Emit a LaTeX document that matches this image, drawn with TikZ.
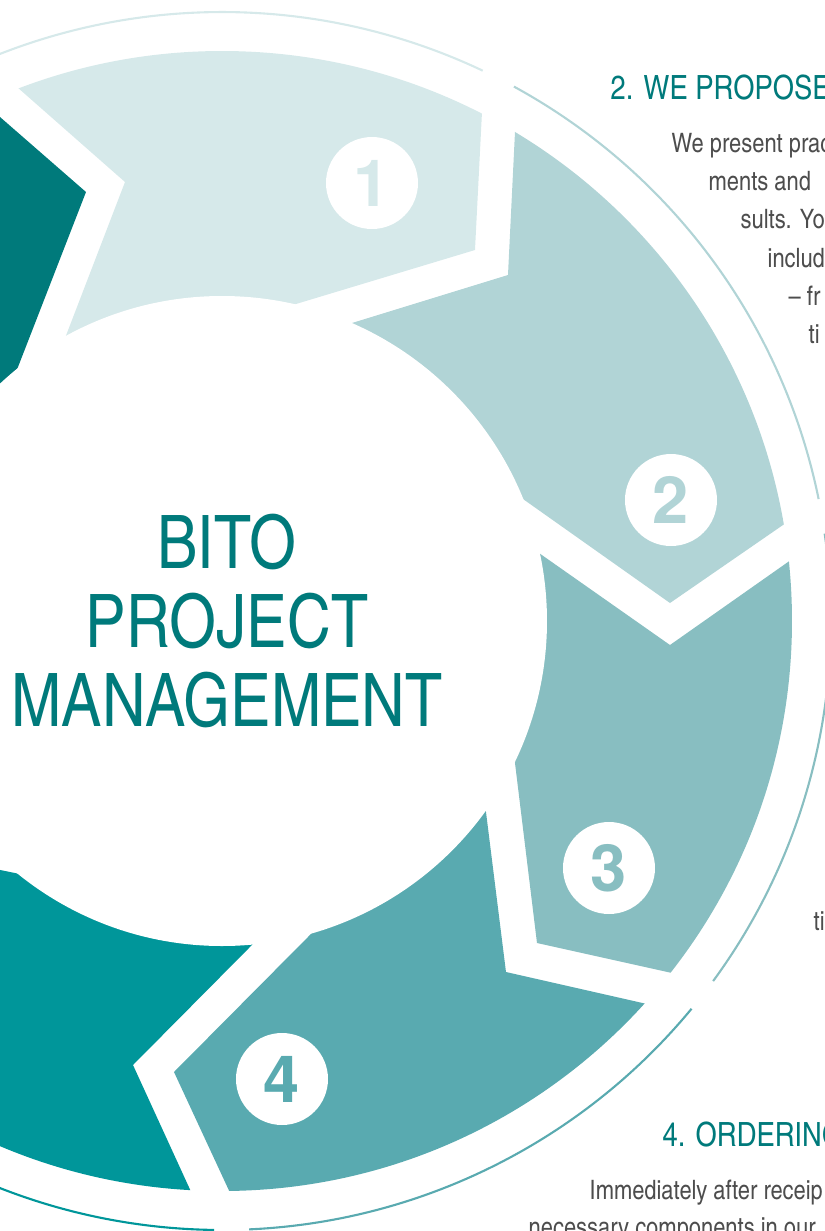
\documentclass[tikz,border=0pt]{standalone}
\usepackage{fontspec}
\setmainfont{TeX Gyre Heros}
\newfontfamily\narrowfont{texgyreheroscn}[Extension=.otf, UprightFont=*-regular, BoldFont=*-bold]
\usetikzlibrary{calc}
\definecolor{stepA}{HTML}{D6E9EA}
\definecolor{stepB}{HTML}{B1D4D6}
\definecolor{stepC}{HTML}{88BEC1}
\definecolor{stepD}{HTML}{59AAB0}
\definecolor{stepE}{HTML}{00969A}
\definecolor{stepG}{HTML}{007A7B}
\definecolor{bodygray}{HTML}{4D4D4D}

\begin{document}
\begin{tikzpicture}[
    numdisc/.style={circle, fill=white, minimum size=9.2mm, inner sep=0pt,
        font=\fontsize{18.5}{18.5}\selectfont\bfseries},
    headline/.style={anchor=base west, inner sep=0pt, text=stepG,
        font=\narrowfont\fontsize{9.5}{11}\selectfont},
    bodyline/.style={anchor=base west, inner sep=0pt, text=bodygray,
        font=\narrowfont\fontsize{7.6}{8.6}\selectfont},
    ringarc/.style={line width=0.6pt},
]
% page is 825 x 1231 px, 1cm = 100px, ring centre at the origin
\useasboundingbox (-2.22,-6.10) rectangle (6.03,6.21);
\clip (-2.22,-6.10) rectangle (6.03,6.21);

% chevron corners: N = notch at start, P = point at end; o/v/i = outer, tip, inner
% segment 7 (dark, top left; its notch lies off the page)
\coordinate (No7) at (163:5.7);
\coordinate (Nv7) at (154:4.47);
\coordinate (Ni7) at (170:3.25);
\coordinate (Po7) at (-2.22,5.04);
\coordinate (Pv7) at (-1.36,4.29);
\coordinate (Pi7) at (-2.04,2.54);
% segment 1
\coordinate (No1) at (-2.05,5.34);
\coordinate (Nv1) at (-0.97,4.39);
\coordinate (Ni1) at (-1.55,2.88);
\coordinate (Po1) at (2.60,5.09);
\coordinate (Pv1) at (2.53,3.71);
\coordinate (Pi1) at (0.74,3.17);
% segment 2
\coordinate (No2) at (2.93,4.89);
\coordinate (Nv2) at (2.86,3.46);
\coordinate (Ni2) at (1.30,2.98);
\coordinate (Po2) at (5.61,0.96);
\coordinate (Pv2) at (4.48,0.18);
\coordinate (Pi2) at (3.01,1.22);
% segment 3
\coordinate (No3) at (5.66,0.59);
\coordinate (Nv3) at (4.48,-0.24);
\coordinate (Ni3) at (3.17,0.68);
\coordinate (Po3) at (4.50,-3.52);
\coordinate (Pv3) at (3.15,-3.22);
\coordinate (Pi3) at (2.93,-1.42);
% segment 4
\coordinate (No4) at (4.25,-3.83);
\coordinate (Nv4) at (2.84,-3.51);
\coordinate (Ni4) at (2.64,-1.91);
\coordinate (Po4) at (0.10,-5.76);
\coordinate (Pv4) at (-0.48,-4.51);
\coordinate (Pi4) at (0.85,-3.17);
% segment 5 (its point lies off the page)
\coordinate (No5) at (-0.29,-5.75);
\coordinate (Nv5) at (-0.89,-4.44);
\coordinate (Ni5) at (0.26,-3.28);
\coordinate (Po5) at (-144.3:5.7);
\coordinate (Pv5) at (-151.4:4.47);
\coordinate (Pi5) at (-2.12,-2.51);

% arrow segments, cut to the outer rim
\begin{scope}
\clip (0,0) circle (5.70);
\foreach \k/\c in {7/stepG,1/stepA,2/stepB,3/stepC,4/stepD,5/stepE}
   \fill[\c] ($(Nv\k)!1.6!(No\k)$) -- (Nv\k) -- ($(Nv\k)!1.6!(Ni\k)$) -- (0,0)
      -- ($(Pv\k)!1.6!(Pi\k)$) -- (Pv\k) -- ($(Pv\k)!1.6!(Po\k)$)
      -- ($(0,0)!1.8!(Po\k)$) -- ($(0,0)!1.8!(No\k)$) -- cycle;
\end{scope}
% hollow middle
\fill[white] (0,0) circle (3.25);

% thin outer ring, broken between steps
\foreach \a/\b/\c in {125/64.65/stepA, 61.35/11.55/stepB, 8.25/-36.25/stepC,
      -39.55/-87.45/stepD, -90.75/-135/stepE}
   \draw[ringarc, \c] (\a:6.09) arc[start angle=\a, end angle=\b, radius=6.09];

% step numbers
\node[numdisc, text=stepA] (num1) at (1.50,4.38) {1};
\node[numdisc, text=stepB] (num2) at (4.49,1.21) {2};
\node[numdisc, text=stepC] (num3) at (3.87,-2.47) {3};
\node[numdisc, text=stepD] (num4) at (0.60,-4.58) {4};

\node[align=center, text=stepG, font=\narrowfont\fontsize{21}{22.6}\selectfont]
   (title) at (0.05,0) {BITO\\PROJECT\\MANAGEMENT};

% text column on the right, wrapped round the ring
\node[headline] (head2) at (3.88,5.22) {2. WE PROPOSE};
\node[bodyline] (txt2a) at (4.49,4.69) {We present prac};
\node[bodyline] (txt2b) at (4.86,4.31) {ments and};
\node[bodyline] (txt2c) at (5.18,3.93) {sults. Yo};
\node[bodyline] (txt2d) at (5.45,3.54) {includ};
\node[bodyline] (txt2e) at (5.66,3.16) {– fr};
\node[bodyline] (txt2f) at (5.86,2.78) {ti};
\node[bodyline] (txt3a) at (5.91,-3.09) {ti};
\node[headline] (head4) at (4.40,-5.25) {4. ORDERING};
\node[bodyline] (txt4a) at (3.67,-5.78) {Immediately after receip};
\node[bodyline] (txt4b) at (3.06,-6.15) {necessary components in our};
\end{tikzpicture}
\end{document}
